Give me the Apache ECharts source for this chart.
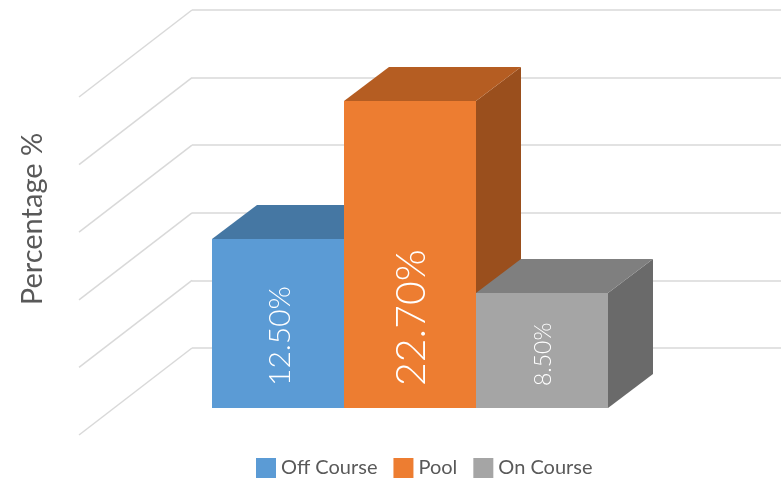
<!DOCTYPE html>
<html>
<head>
<meta charset="utf-8">
<script src="https://cdn.jsdelivr.net/npm/echarts@6/dist/echarts.min.js"></script>
<style>
  html, body { margin: 0; padding: 0; background: #fff; }
  #main { width: 781px; height: 480px; }
</style>
</head>
<body>
<div id="main"></div>
<script>
// 数据
const categories = ["Off Course", "Pool", "On Course"];
const values = [12.5, 22.7, 8.5];
const labels = ["12.50%", "22.70%", "8.50%"];
const yTicks = [0, 5, 10, 15, 20, 25];

// 样式
const faceColors = [
  { front: "#5B9BD5", top: "#4577A3", side: "#3F6E99" },
  { front: "#ED7D31", top: "#B55D22", side: "#9A4F1D" },
  { front: "#A5A5A5", top: "#7F7F7F", side: "#6A6A6A" }
];
const labelSizes = [30, 41, 23];
const DX = 45, DY = -34;        // 柱子深度
const WX = -113, WY = 87;       // 侧墙深度
const font = "Lato, 'Open Sans', sans-serif";

const myChart = echarts.init(document.getElementById("main"));

// 每个类别一个系列，方便图例
const barSeries = categories.map((name, i) => ({
  name: name,
  type: "custom",
  xAxisIndex: 1,
  yAxisIndex: 1,
  z: 5 + i,
  itemStyle: { color: faceColors[i].front },
  data: [[i, values[i]]],
  renderItem: function(params, api) {
    const base = api.coord([api.value(0), 0]);
    const top = api.coord([api.value(0), api.value(1)]);
    const w = api.size([1, 0])[0];
    const x0 = base[0] - w / 2, x1 = base[0] + w / 2;
    const yb = base[1], yt = top[1];
    const c = faceColors[i];
    return {
      type: "group",
      children: [
        {
          type: "polygon",
          shape: { points: [[x1, yt], [x1 + DX, yt + DY], [x1 + DX, yb + DY], [x1, yb]] },
          style: { fill: c.side }
        },
        {
          type: "polygon",
          shape: { points: [[x0, yt], [x0 + DX, yt + DY], [x1 + DX, yt + DY], [x1, yt]] },
          style: { fill: c.top }
        },
        {
          type: "rect",
          shape: { x: x0, y: yt, width: w, height: yb - yt },
          style: { fill: c.front }
        },
        {
          type: "text",
          x: base[0] + 2,
          y: yb - 22,
          rotation: Math.PI / 2,
          style: {
            text: labels[i],
            fill: "#fff",
            font: "300 " + labelSizes[i] + "px " + font,
            align: "left",
            verticalAlign: "middle"
          }
        }
      ]
    };
  }
}));

myChart.setOption({
  animation: false,
  backgroundColor: "#fff",
  grid: [
    // 后墙
    { left: 192, right: 0, top: 10, height: 338 },
    // 柱子正面
    { left: 212, width: 396, top: 70, height: 338 }
  ],
  xAxis: [
    { gridIndex: 0, type: "value", min: 0, max: 1, show: false },
    { gridIndex: 1, type: "category", data: categories, show: false }
  ],
  yAxis: [
    {
      gridIndex: 0,
      type: "value",
      min: 0,
      max: 25,
      interval: 5,
      axisLine: { show: false },
      axisTick: { show: false },
      axisLabel: { show: false },
      splitLine: { lineStyle: { color: "#D9D9D9", width: 1.5 } }
    },
    { gridIndex: 1, type: "value", min: 0, max: 25, interval: 5, show: false }
  ],
  legend: {
    top: 458,
    left: 256,
    padding: 0,
    icon: "rect",
    itemWidth: 20,
    itemHeight: 20,
    itemGap: 16,
    textStyle: { fontFamily: font, fontSize: 20, color: "#595959" },
    data: categories
  },
  graphic: [
    {
      type: "text",
      x: 33,
      y: 219,
      rotation: Math.PI / 2,
      style: {
        text: "Percentage %",
        fill: "#595959",
        font: "29px " + font,
        align: "center",
        verticalAlign: "middle"
      }
    }
  ],
  series: [
    {
      // 侧墙斜线
      type: "custom",
      xAxisIndex: 0,
      yAxisIndex: 0,
      z: 1,
      silent: true,
      data: yTicks.map(v => [0, v]),
      renderItem: function(params, api) {
        const p = api.coord([0, api.value(1)]);
        return {
          type: "line",
          shape: { x1: p[0], y1: p[1], x2: p[0] + WX, y2: p[1] + WY },
          style: { stroke: "#D9D9D9", lineWidth: 1.5 }
        };
      }
    }
  ].concat(barSeries)
});
</script>
</body>
</html>
